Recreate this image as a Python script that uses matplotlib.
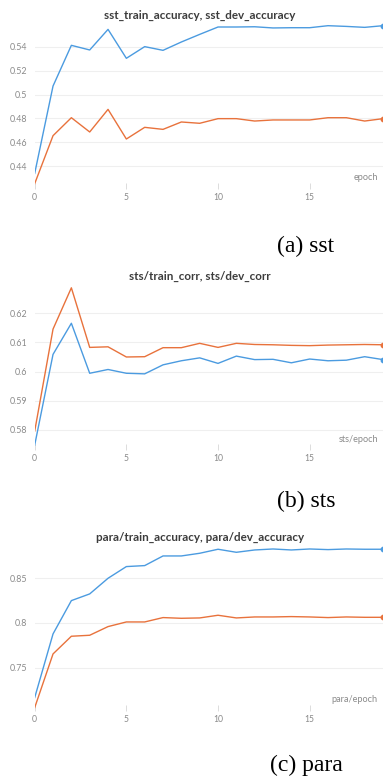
import numpy as np
import matplotlib
matplotlib.use("Agg")
import matplotlib.pyplot as plt

plt.rcParams['font.family'] = ['Lato', 'DejaVu Sans']

epochs = np.arange(20)

# sst
sst_train = [0.4338, 0.5072, 0.5414, 0.5375, 0.5548, 0.5305, 0.5403, 0.5372, 0.5442, 0.5506,
             0.5568, 0.5568, 0.5570, 0.5560, 0.5562, 0.5562, 0.5579, 0.5573, 0.5565, 0.5579]
sst_dev = [0.4252, 0.4655, 0.4806, 0.4686, 0.4876, 0.4627, 0.4725, 0.4708, 0.4770, 0.4759,
           0.4798, 0.4798, 0.4778, 0.4787, 0.4787, 0.4787, 0.4806, 0.4806, 0.4778, 0.4798]

# sts
sts_train = [0.5747, 0.6059, 0.6166, 0.5994, 0.6007, 0.5994, 0.5992, 0.6023, 0.6037, 0.6047,
             0.6028, 0.6053, 0.6041, 0.6042, 0.6030, 0.6043, 0.6037, 0.6039, 0.6051, 0.6041]
sts_dev = [0.5795, 0.6146, 0.6288, 0.6083, 0.6085, 0.6050, 0.6051, 0.6082, 0.6082, 0.6097,
           0.6083, 0.6097, 0.6093, 0.6092, 0.6090, 0.6089, 0.6091, 0.6092, 0.6093, 0.6092]

# para
para_train = [0.7164, 0.7877, 0.8250, 0.8325, 0.8500, 0.8631, 0.8642, 0.8750, 0.8750, 0.8780,
              0.8825, 0.8791, 0.8817, 0.8828, 0.8817, 0.8828, 0.8821, 0.8828, 0.8825, 0.8825]
para_dev = [0.7052, 0.7653, 0.7851, 0.7862, 0.7959, 0.8011, 0.8011, 0.8060, 0.8052, 0.8056,
            0.8086, 0.8056, 0.8067, 0.8067, 0.8071, 0.8067, 0.8060, 0.8067, 0.8063, 0.8063]

titles = ["sst_train_accuracy, sst_dev_accuracy",
          "sts/train_corr, sts/dev_corr",
          "para/train_accuracy, para/dev_accuracy"]
xlabels = ["epoch", "sts/epoch", "para/epoch"]
captions = ["(a) sst", "(b) sts", "(c) para"]
xticks = [0, 5, 10, 15]
yticks = [[0.44, 0.46, 0.48, 0.50, 0.52, 0.54],
          [0.58, 0.59, 0.60, 0.61, 0.62],
          [0.75, 0.80, 0.85]]
yticklabels = [["0.44", "0.46", "0.48", "0.5", "0.52", "0.54"],
               ["0.58", "0.59", "0.6", "0.61", "0.62"],
               ["0.75", "0.8", "0.85"]]
ylims = [(0.4207, 0.561), (0.573, 0.6308), (0.7014, 0.8895)]

W, H = 383, 776
fig = plt.figure(figsize=(W / 100, H / 100), dpi=100)

blue = '#4b9be0'
orange = '#e8723c'

# pixel boxes (top, bottom) of each panel
boxes = [(22, 189), (282, 450), (543, 711)]
title_y = [15, 276, 537]
caption_y = [252.5, 507.5, 771]
left_px = 34.7

series = [(sst_train, sst_dev), (sts_train, sts_dev), (para_train, para_dev)]

for i in range(3):
    top, bot = boxes[i]
    ax = fig.add_axes([left_px / W, (H - bot) / H, (W - left_px) / W, (bot - top) / H])
    tr, dv = series[i]
    ax.plot(epochs, tr, color=blue, lw=1.0, marker='o', markevery=[19], ms=3.2)
    ax.plot(epochs, dv, color=orange, lw=1.0, marker='o', markevery=[19], ms=3.2)
    ax.set_xlim(0, 19)
    ax.set_ylim(*ylims[i])
    for s in ax.spines.values():
        s.set_visible(False)
    ax.set_yticks(yticks[i])
    ax.set_yticklabels(yticklabels[i])
    ax.set_xticks(xticks)
    ax.tick_params(axis='y', length=0, pad=5.3, labelsize=6.4, labelcolor='#8a8a8a')
    ax.tick_params(axis='x', direction='in', length=4.5, width=0.7, color='#dcdcdc',
                   pad=3.2, labelsize=6.2, labelcolor='#8a8a8a')
    ax.grid(axis='y', color='#efefef', lw=0.8)
    ax.set_axisbelow(True)
    ax.annotate(xlabels[i], xy=(1, 0), xycoords='axes fraction', xytext=(-5, 11),
                textcoords='offset pixels', ha='right', va='center', fontsize=6.6, color='#8a8a8a')
    fig.text(200 / W, (H - title_y[i]) / H, titles[i], ha='center', va='center',
             fontsize=8.4, fontweight='bold', color='#3c3c3c')
    fig.text(306 / W, (H - caption_y[i]) / H, captions[i], ha='center', va='baseline',
             fontsize=17, family='Liberation Serif', color='black')

fig.savefig('out.png', dpi=100)
